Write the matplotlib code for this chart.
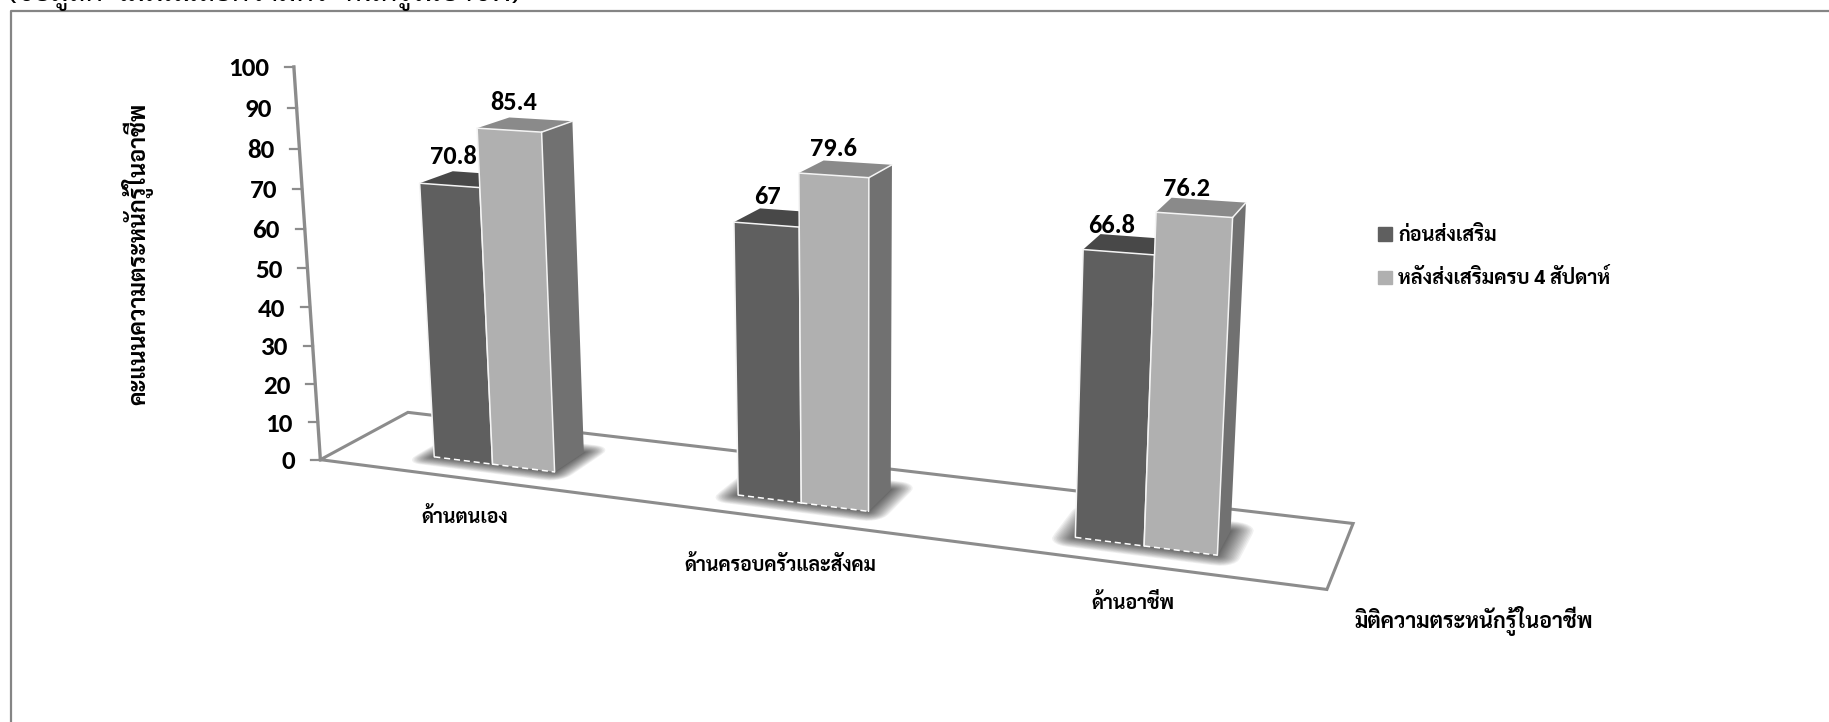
import numpy as np
import matplotlib
matplotlib.use("Agg")
import matplotlib.pyplot as plt
from matplotlib.patches import Patch
from matplotlib.font_manager import FontProperties

# ข้อมูล
categories = ["ด้านตนเอง", "ด้านครอบครัวและสังคม", "ด้านอาชีพ"]
series_names = ["ก่อนส่งเสริม", "หลังส่งเสริมครบ 4 สัปดาห์"]
before = [70.8, 67, 66.8]
after = [85.4, 79.6, 76.2]
y_ticks = [0, 10, 20, 30, 40, 50, 60, 70, 80, 90, 100]
y_title = "คะแนนความตระหนักรู้ในอาชีพ"
x_title = "มิติความตระหนักรู้ในอาชีพ"
top_line = "(ข้อมูลคะแนนเฉลี่ยความตระหนักรู้ในอาชีพ)"

W, H = 1829, 722
thai = ["Sarabun", "Noto Sans Thai", "DejaVu Sans"]
num_font = ["Carlito", "Lato", "DejaVu Sans"]

# กล้องมุมมอง: (u, v, z) -> พิกเซล ฟิตจากมุมพื้นและแกน y
world_pts = np.array([(0, 0, 0), (3, 0, 0), (3, 1, 0), (0, 1, 0),
                      (0, 0, 50), (0, 0, 100), (3, 1, 100)], float)
pixel_pts = np.array([(321, 460), (1327, 589), (1353, 524), (408, 412),
                      (306, 268), (294.6, 67), (1380, 90)], float)
A, b = [], []
for (u, v, z), (px, py) in zip(world_pts, pixel_pts):
    A.append([u, v, z, 1, 0, 0, 0, 0, -px * u, -px * v, -px * z])
    b.append(px)
    A.append([0, 0, 0, 0, u, v, z, 1, -py * u, -py * v, -py * z])
    b.append(py)
p = np.linalg.lstsq(np.array(A), np.array(b), rcond=None)[0]
P = np.append(p, 1).reshape(3, 4)


def proj(u, v, z):
    x = P @ np.array([u, v, z, 1.0])
    return x[0] / x[2], x[1] / x[2]


def quad(pts):
    return zip(*[proj(*q) for q in pts])


def shadow(ax, u0, u1, v0, v1):
    n = 18
    for k in range(n):
        f = (1 - k / n) ** 1.3
        eu, ev = 0.06 * f, 0.15 * f
        r = 0.9
        pts = []
        # สี่เหลี่ยมมุมมน บนพื้น
        corners = [(u1, v1, 0), (u0, v1, 90), (u0, v0, 180), (u1, v0, 270)]
        for cu, cv, a0 in corners:
            for a in np.radians(np.arange(a0, a0 + 91, 15)):
                su = cu + (np.sign(np.cos(a)) * eu * (1 - r) + np.cos(a) * eu * r)
                sv = cv + (np.sign(np.sin(a)) * ev * (1 - r) + np.sin(a) * ev * r)
                pts.append((su, sv, 0))
        xs, ys = quad(pts)
        ax.fill(xs, ys, color="#3c3c3c", alpha=0.075, lw=0, zorder=3)


def box(ax, u0, u1, v0, v1, val, front_c, side_c, top_c, zo):
    faces = [([(u1, v0, 0), (u1, v1, 0), (u1, v1, val), (u1, v0, val)], side_c),
             ([(u0, v0, val), (u1, v0, val), (u1, v1, val), (u0, v1, val)], top_c),
             ([(u0, v0, 0), (u1, v0, 0), (u1, v0, val), (u0, v0, val)], front_c)]
    for pts, c in faces:
        xs, ys = quad(pts)
        ax.fill(xs, ys, color=c, lw=0, zorder=zo)
    # เส้นขอบขาว
    for a, c in [((u0, v0, 0), (u0, v0, val)), ((u1, v0, 0), (u1, v0, val)),
                 ((u0, v0, val), (u1, v0, val)), ((u1, v0, val), (u1, v1, val))]:
        xs, ys = quad([a, c])
        ax.plot(xs, ys, color="#f4f4f4", lw=1.1, zorder=zo + 0.1, solid_capstyle="round")
    xs, ys = quad([(u0, v0, 0), (u1, v0, 0)])
    ax.plot(xs, ys, color="white", lw=1.1, ls=(0, (4, 2.5)), zorder=zo + 0.1)


fig = plt.figure(figsize=(W / 100, H / 100), dpi=100)
ax = fig.add_axes([0, 0, 1, 1])
ax.set_xlim(0, W)
ax.set_ylim(H, 0)
ax.axis("off")

# กรอบนอก
ax.plot([10.5, 10.5, W], [H, 10.5, 10.5], color="#858585", lw=1.6, zorder=1)
ax.text(8, 1, top_line, family=thai, fontsize=21, color="black", ha="left", va="baseline", clip_on=False)

# พื้น
xs, ys = quad([(0, 0, 0), (3, 0, 0), (3, 1, 0), (0, 1, 0), (0, 0, 0)])
ax.plot(xs, ys, color="#8c8c8c", lw=2.2, zorder=2, solid_joinstyle="miter")

# แกน y
xs, ys = quad([(0, 0, 0), (0, 0, y_ticks[-1])])
ax.plot(xs, ys, color="#8c8c8c", lw=2.4, zorder=2)
for t in y_ticks:
    x0, y0 = proj(0, 0, t)
    ax.plot([x0 - 9, x0], [y0, y0], color="#8c8c8c", lw=1.6, zorder=2)
    ax.text(x0 - 25, y0, str(t), family=num_font, weight="bold", fontsize=19.5,
            ha="right", va="center_baseline", color="black")

# แท่ง (ปรับตำแหน่ง/ขนาดต่อหมวดให้ตรงภาพจริง)
u_start, u_split, u_end = 0.318, 0.52, 0.73
v_front, v_back = 0.28, 0.66
cat_shift = [-0.004, 0.012, 0.015]
cat_scale = [1, 0.966, 0.933]
label_dx = [1, 7, 11]
label_dy = [-17, -14, -11]
for i in range(len(categories)):
    u0 = i + cat_shift[i] + cat_scale[i] * u_start
    um = i + cat_shift[i] + cat_scale[i] * u_split
    u1 = i + cat_shift[i] + cat_scale[i] * u_end
    shadow(ax, u0, u1, v_front, v_back)
    box(ax, u0, um, v_front, v_back, before[i], "#5f5f5f", "#565656", "#484848", 4)
    box(ax, um, u1, v_front, v_back, after[i], "#b0b0b0", "#717171", "#8a8a8a", 5)
    # ป้ายค่า
    for uu, val in [(u0, before[i]), (um + 0.01, after[i])]:
        lx, ly = proj(uu, v_back, val)
        ax.text(lx + label_dx[i], ly + label_dy[i], f"{val:g}", family=num_font, weight="bold",
                fontsize=19, ha="center", va="center_baseline", color="black", zorder=8)

# ป้ายหมวด
cat_label_xy = [(465, 517), (780, 565), (1133, 603)]
for cat, (lx, ly) in zip(categories, cat_label_xy):
    ax.text(lx, ly, cat, family=thai, weight="bold", fontsize=14, ha="center", va="center", color="black")

# ชื่อแกน
ax.text(137, 254, y_title, family=thai, weight="bold", fontsize=16.7, rotation=90,
        ha="center", va="center", color="black")
ax.text(1354, 621, x_title, family=thai, weight="bold", fontsize=15.4, ha="left", va="center", color="black")

# คำอธิบาย
handles = [Patch(color="#5f5f5f"), Patch(color="#b0b0b0")]
ax.legend(handles, series_names, loc="upper left", bbox_to_anchor=(1378 / W, 1 - 226 / H), frameon=False,
          prop=FontProperties(family=thai, weight="bold", size=14.3), handlelength=0.7, handleheight=0.7,
          handletextpad=0.32, labelspacing=1.18, borderpad=0, borderaxespad=0)

fig.savefig("out.png", dpi=100)
